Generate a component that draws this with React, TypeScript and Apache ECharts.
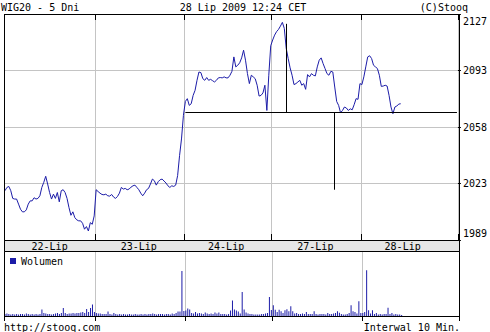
import React, { useEffect, useRef } from 'react';
import * as echarts from 'echarts';

const FONT = '"DejaVu Sans Mono", "Liberation Mono", monospace';

// ---- categories (5 trading days, 10-minute slots) ----
const days = ['22-Lip', '23-Lip', '24-Lip', '27-Lip', '28-Lip'];
const slotsPerDay = [47, 46, 45, 46, 50];
const labelSlotInDay = [23, 22, 21, 22, 21];
const firstMinute = 9 * 60;
const stepMinutes = 10;

// ---- price axis ----
const yBase = 1989;
const yTop = 2127;
const yTickLabels = ['1989', '2023', '2058', '2093', '2127'];

// ---- WIG20 price, 10-minute closes ----
const prices22 = [2019.1, 2021.1, 2021.7, 2019.1, 2014.4, 2014.0, 2014.0, 2010.9, 2007.8, 2006.2, 2006.2, 2007.4, 2010.9, 2012.9, 2012.9, 2014.8, 2014.0, 2014.4, 2016.0, 2021.1, 2024.2, 2027.9, 2023.2, 2018.0, 2014.0, 2017.0, 2014.4, 2018.0, 2012.3, 2019.1, 2019.7, 2018.0, 2014.4, 2008.8, 2004.1, 2006.2, 2002.7, 2001.3, 2000.7, 2000.7, 1999.2, 1995.6, 1997.2, 1994.5, 1999.6, 1998.6, 2003.7];
const prices23 = [2019.7, 2018.6, 2017.6, 2016.8, 2016.6, 2017.0, 2016.0, 2015.8, 2016.8, 2015.2, 2014.4, 2015.6, 2017.6, 2021.1, 2020.1, 2020.5, 2019.7, 2020.1, 2021.3, 2022.1, 2022.5, 2021.1, 2019.7, 2017.6, 2016.0, 2017.6, 2019.7, 2020.5, 2023.2, 2026.2, 2025.2, 2022.5, 2024.6, 2025.8, 2026.2, 2025.0, 2023.8, 2022.1, 2021.1, 2022.1, 2021.7, 2022.5, 2028.3, 2040.5, 2050.7, 2065.1];
const prices24 = [2073.6, 2075.3, 2071.2, 2072.2, 2077.3, 2080.4, 2086.5, 2091.6, 2091.2, 2087.5, 2086.5, 2088.2, 2086.5, 2087.1, 2086.3, 2085.5, 2086.5, 2088.0, 2088.2, 2088.0, 2088.6, 2088.0, 2088.0, 2089.6, 2092.0, 2100.8, 2094.7, 2095.7, 2097.2, 2100.2, 2104.9, 2098.8, 2090.6, 2084.5, 2089.6, 2088.6, 2087.5, 2083.5, 2076.9, 2077.3, 2078.8, 2083.5, 2068.1, 2089.6, 2107.6];
const prices27 = [2111.1, 2114.1, 2116.2, 2117.6, 2119.6, 2121.9, 2118.2, 2105.9, 2099.8, 2094.1, 2089.6, 2083.9, 2084.5, 2085.5, 2086.5, 2083.5, 2084.5, 2081.0, 2090.0, 2088.6, 2090.6, 2089.6, 2089.2, 2094.7, 2098.8, 2100.2, 2096.7, 2093.7, 2090.6, 2089.6, 2092.0, 2091.6, 2082.4, 2073.6, 2071.2, 2066.7, 2068.1, 2070.2, 2069.6, 2068.1, 2069.1, 2068.5, 2071.6, 2075.3, 2074.9, 2084.5];
const prices28 = [2083.9, 2088.6, 2094.7, 2100.8, 2101.5, 2099.8, 2095.7, 2094.7, 2093.7, 2089.6, 2082.8, 2083.0, 2083.5, 2083.0, 2077.3, 2070.2, 2066.1, 2070.2, 2070.8, 2072.0, 2072.2];

// ---- volume (relative units) ----
const vol22 = [20, 25, 20, 15, 20, 15, 20, 15, 20, 20, 15, 25, 20, 15, 20, 15, 20, 15, 20, 65, 30, 25, 20, 20, 15, 20, 25, 30, 20, 30, 80, 30, 20, 25, 25, 30, 25, 30, 30, 35, 40, 30, 70, 40, 80, 115, 40];
const vol23 = [30, 25, 25, 20, 20, 20, 45, 20, 15, 30, 20, 15, 20, 15, 20, 15, 15, 20, 15, 15, 20, 15, 15, 20, 15, 20, 15, 20, 20, 25, 20, 15, 20, 20, 20, 15, 20, 20, 15, 25, 20, 30, 45, 45, 450, 50];
const vol24 = [55, 75, 65, 30, 25, 40, 25, 30, 25, 20, 35, 25, 20, 25, 20, 35, 25, 35, 20, 20, 20, 15, 20, 55, 155, 65, 55, 45, 25, 240, 65, 35, 25, 20, 20, 15, 15, 15, 15, 20, 20, 25, 30, 190, 60];
const vol27 = [107, 63, 40, 63, 47, 30, 57, 67, 47, 97, 47, 25, 30, 20, 20, 25, 20, 40, 20, 20, 20, 47, 20, 15, 20, 20, 20, 15, 30, 20, 20, 25, 30, 47, 33, 20, 15, 15, 20, 30, 107, 47, 40, 25, 147, 30];
const vol28 = [30, 40, 457, 57, 25, 57, 20, 30, 15, 20, 15, 20, 20, 83, 20, 30, 15, 20, 15, 15, 10];
const volMax = 650;

// ---- black reference lines ----
const refLevel = 2067.1;
const refStartDay = 2;
const spikeSlots = [145, 170];
const spikeFrom = [2121.0, 2067.1];
const spikeTo = [2067.1, 2019.7];

// ---- texts ----
const titleText = 'WIG20 - 5 Dni';
const stampText = '28 Lip 2009 12:24 CET';
const copyText = '(C)Stooq';
const siteText = 'http://stooq.com';
const noteText = 'Interwal 10 Min.';
const volumeName = 'Wolumen';

const priceDays = [prices22, prices23, prices24, prices27, prices28];
const volDays = [vol22, vol23, vol24, vol27, vol28];

const BLUE = '#1c1ca8';
const GRAY = '#c4c4c4';

function buildOption() {
  const categories: string[] = [];
  const dayStarts: number[] = [];
  const labelIdx: number[] = [];
  const priceData: (number | null)[] = [];
  const volData: (number | null)[] = [];
  let k = 0;
  days.forEach((d, di) => {
    dayStarts.push(k);
    labelIdx.push(k + labelSlotInDay[di]);
    for (let j = 0; j < slotsPerDay[di]; j++) {
      const m = firstMinute + j * stepMinutes;
      const hh = String(Math.floor(m / 60)).padStart(2, '0');
      const mm = String(m % 60).padStart(2, '0');
      categories.push(`${d} ${hh}:${mm}`);
      const p = priceDays[di][j];
      priceData.push(p === undefined ? null : +(p - yBase).toFixed(2));
      const v = volDays[di][j];
      volData.push(v === undefined ? null : v);
      k++;
    }
  });
  const last = categories.length - 1;
  const isDaySplit = (i: number) => i !== 0 && dayStarts.indexOf(i) >= 0;
  const isDayTick = (i: number) => dayStarts.indexOf(i) >= 0;
  const isLabel = (i: number) => labelIdx.indexOf(i) >= 0;
  const span = yTop - yBase;
  const step = span / (yTickLabels.length - 1);

  const labelRich = {
    t: { padding: [14, 0, 0, 0], fontFamily: FONT, fontSize: 10, color: '#000', lineHeight: 12 },
    b: { padding: [0, 0, 14, 0], fontFamily: FONT, fontSize: 10, color: '#000', lineHeight: 12 },
    m: { fontFamily: FONT, fontSize: 10, color: '#000', lineHeight: 12 },
  };

  const markData: any[] = [
    [{ coord: [dayStarts[refStartDay], refLevel - yBase] }, { coord: [last, refLevel - yBase] }],
  ];
  spikeSlots.forEach((s, i) => {
    markData.push([{ coord: [s, spikeFrom[i] - yBase] }, { coord: [s, spikeTo[i] - yBase] }]);
  });

  const txt = (text: string, x: number, y: number, align: string) => ({
    type: 'text',
    x,
    y,
    silent: true,
    z: 100,
    style: { text, fill: '#000', fontFamily: FONT, fontSize: 10, align, verticalAlign: 'middle' },
  });
  const box = (y: number, h: number) => ({
    type: 'rect',
    silent: true,
    z: 100,
    shape: { x: 4.5, y: y + 0.5, width: 455, height: h },
    style: { fill: 'none', stroke: '#000', lineWidth: 1 },
  });

  return {
    animation: false,
    backgroundColor: '#ffffff',
    textStyle: { fontFamily: FONT },
    grid: [
      { left: 4, top: 14, width: 455, height: 226, show: true, borderWidth: 0, backgroundColor: '#fff' },
      { left: 4, top: 251, width: 455, height: 65, show: true, borderWidth: 0, backgroundColor: '#fff' },
      { left: 4, top: 240, width: 455, height: 11, show: true, borderWidth: 0, backgroundColor: '#e6e6e6' },
    ],
    legend: {
      data: [volumeName],
      left: 10,
      top: 256,
      icon: 'rect',
      itemWidth: 6,
      itemHeight: 6,
      padding: 0,
      selectedMode: false,
      textStyle: { fontFamily: FONT, fontSize: 10, color: '#000' },
    },
    xAxis: [
      {
        type: 'category', gridIndex: 0, position: 'bottom', data: categories,
        axisLine: { show: false },
        axisTick: { show: true, inside: true, length: 6, interval: isDayTick, lineStyle: { color: '#000' } },
        splitLine: { show: true, interval: isDaySplit, lineStyle: { color: GRAY, width: 1 } },
        axisLabel: {
          show: true, interval: isLabel, margin: 1, fontFamily: FONT, fontSize: 10, color: '#000',
          formatter: (v: string) => v.split(' ')[0],
        },
      },
      {
        type: 'category', gridIndex: 0, position: 'top', data: categories,
        axisLine: { show: false },
        axisTick: { show: true, inside: true, length: 6, interval: isDayTick, lineStyle: { color: '#000' } },
        axisLabel: { show: false },
        splitLine: { show: false },
      },
      {
        type: 'category', gridIndex: 1, position: 'top', data: categories,
        axisLine: { show: false },
        axisTick: { show: true, inside: true, length: 5, interval: isDayTick, lineStyle: { color: '#000' } },
        axisLabel: { show: false },
        splitLine: { show: true, interval: isDaySplit, lineStyle: { color: GRAY, width: 1 } },
      },
      { type: 'category', gridIndex: 2, data: categories, show: false },
    ],
    yAxis: [
      {
        type: 'value', gridIndex: 0, position: 'right', min: 0, max: span, interval: step,
        axisLine: { show: false },
        axisTick: { show: true, length: 3, lineStyle: { color: '#000' } },
        splitLine: { show: true, lineStyle: { color: GRAY, width: 1 } },
        axisLabel: {
          show: true, margin: 5, showMinLabel: true, showMaxLabel: true,
          fontFamily: FONT, fontSize: 10, color: '#000',
          formatter: (v: number) => {
            const i = Math.round(v / step);
            const s = yTickLabels[i];
            if (i === yTickLabels.length - 1) return `{t|${s}}`;
            if (i === 0) return `{b|${s}}`;
            return `{m|${s}}`;
          },
          rich: labelRich,
        },
      },
      { type: 'value', gridIndex: 1, min: 0, max: volMax, show: false },
      { type: 'value', gridIndex: 2, show: false },
    ],
    series: [
      {
        type: 'line', name: 'WIG20', xAxisIndex: 0, yAxisIndex: 0, data: priceData,
        showSymbol: false, symbol: 'none', connectNulls: false,
        lineStyle: { color: BLUE, width: 1 }, itemStyle: { color: BLUE },
        markLine: {
          silent: true, symbol: ['none', 'none'], label: { show: false },
          lineStyle: { color: '#000', width: 1, type: 'solid' },
          emphasis: { disabled: true },
          data: markData,
        },
      },
      {
        type: 'bar', name: volumeName, xAxisIndex: 2, yAxisIndex: 1, data: volData,
        barWidth: 1, itemStyle: { color: BLUE },
      },
    ],
    graphic: [
      box(14, 226),
      box(240, 11),
      box(251, 65),
      txt(titleText, 1, 7, 'left'),
      txt(stampText, 243, 7, 'center'),
      txt(copyText, 468, 7, 'right'),
      txt(siteText, 4, 327, 'left'),
      txt(noteText, 460, 327, 'right'),
    ],
  };
}

export default function App() {
  const ref = useRef<HTMLDivElement>(null);
  useEffect(() => {
    if (!ref.current) return;
    const chart = echarts.init(ref.current, undefined, { renderer: 'svg' });
    chart.setOption(buildOption() as any);
    return () => chart.dispose();
  }, []);
  return (
    <div
      ref={ref}
      style={{ position: 'absolute', left: 0, top: 0, width: 490, height: 332, background: '#fff' }}
    />
  );
}
